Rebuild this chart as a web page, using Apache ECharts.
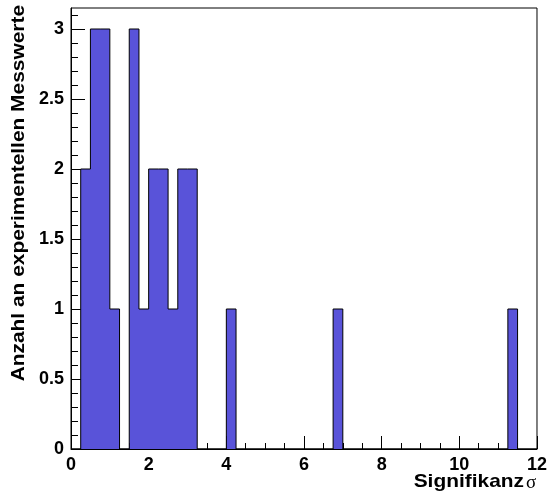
<!DOCTYPE html>
<html>
<head>
<meta charset="utf-8">
<script src="https://cdn.jsdelivr.net/npm/echarts@6/dist/echarts.min.js"></script>
<style>
  html, body { margin: 0; padding: 0; background: #fff; }
  #chart { width: 550px; height: 498px; }
</style>
</head>
<body>
<div id="chart"></div>
<script>
// Histogram of significances: lower bin edges of the filled bins and their counts
var binWidth = 0.25;
var binLow = [0.25, 0.5, 0.75, 1.0, 1.5, 1.75, 2.0, 2.25, 2.5, 2.75, 3.0, 4.0, 6.75, 11.25];
var counts = [2, 3, 3, 1, 3, 1, 2, 2, 1, 2, 2, 1, 1, 1];

// Axis ranges and tick labels
var xRange = [0, 12];
var xTickLabels = [0, 2, 4, 6, 8, 10, 12];
var yRange = [0, 3.15];
var yTickLabels = [0, 0.5, 1, 1.5, 2, 2.5, 3];
var yMinorStep = 0.1;

var FONT = 'Liberation Sans, Arial, Helvetica, sans-serif';
var FILL = '#5953d9';

// minor tick positions on the y axis
var yMinorTicks = [];
for (var k = 1; yMinorStep * k < yRange[1]; k++) {
  yMinorTicks.push(Math.round(yMinorStep * k * 100) / 100);
}

// step outline of the histogram (filled underneath)
var outline = [[xRange[0], 0]];
for (var i = 0; i < binLow.length; i++) {
  var lo = binLow[i];
  var hi = lo + binWidth;
  outline.push([lo, counts[i]]);
  var nextLo = i + 1 < binLow.length ? binLow[i + 1] : null;
  if (nextLo === null || Math.abs(nextLo - hi) > 1e-9) {
    outline.push([hi, 0]);
  }
}
outline.push([xRange[1], 0]);

var chart = echarts.init(document.getElementById('chart'), null, { renderer: 'canvas' });

var labelStyle = { color: '#000', fontFamily: FONT, fontWeight: 'bold', fontSize: 18 };

chart.setOption({
  animation: false,
  backgroundColor: '#fff',
  grid: {
    left: 71, right: 9, top: 8, bottom: 49,
    show: true, borderColor: '#000', borderWidth: 1, backgroundColor: 'transparent'
  },
  xAxis: {
    type: 'value',
    min: xRange[0], max: xRange[1], interval: 2,
    axisLine: { show: true, onZero: false, lineStyle: { color: '#000', width: 1 } },
    axisTick: { show: true, inside: true, length: 13, lineStyle: { color: '#000', width: 1 } },
    minorTick: { show: true, splitNumber: 4, length: 6, lineStyle: { color: '#000', width: 1 } },
    axisLabel: Object.assign({ margin: 7, customValues: xTickLabels }, labelStyle),
    splitLine: { show: false },
    minorSplitLine: { show: false }
  },
  yAxis: [
    {
      type: 'value',
      min: yRange[0], max: yRange[1],
      position: 'left',
      axisLine: { show: true, onZero: false, lineStyle: { color: '#000', width: 1 } },
      axisTick: { show: true, inside: true, length: 14, customValues: yTickLabels, lineStyle: { color: '#000', width: 1 } },
      axisLabel: Object.assign({ margin: 7, customValues: yTickLabels }, labelStyle),
      splitLine: { show: false }
    },
    {
      type: 'value',
      min: yRange[0], max: yRange[1],
      position: 'left',
      axisLine: { show: false },
      axisTick: { show: true, inside: true, length: 7, customValues: yMinorTicks, lineStyle: { color: '#000', width: 1 } },
      axisLabel: { show: false },
      splitLine: { show: false }
    }
  ],
  series: [
    {
      type: 'line',
      xAxisIndex: 0,
      yAxisIndex: 0,
      data: outline,
      step: 'end',
      showSymbol: false,
      symbol: 'none',
      lineStyle: { color: '#000', width: 1 },
      areaStyle: { color: FILL, opacity: 1, origin: 'start' },
      z: 2
    }
  ],
  graphic: [
    {
      type: 'text',
      x: 19, y: 5,
      rotation: Math.PI / 2,
      scaleX: 1.1,
      style: {
        text: 'Anzahl an experimentellen Messwerte',
        fill: '#000',
        font: 'bold 19px ' + FONT,
        align: 'right',
        verticalAlign: 'middle'
      }
    },
    {
      type: 'text',
      x: 524, y: 482,
      scaleX: 1.1,
      style: {
        text: 'Signifikanz',
        fill: '#000',
        font: 'bold 19px ' + FONT,
        align: 'right',
        verticalAlign: 'middle'
      }
    },
    {
      type: 'text',
      x: 526, y: 483,
      style: {
        text: 'σ',
        fill: '#000',
        font: '19px Liberation Serif, serif',
        align: 'left',
        verticalAlign: 'middle'
      }
    }
  ]
});
</script>
</body>
</html>
